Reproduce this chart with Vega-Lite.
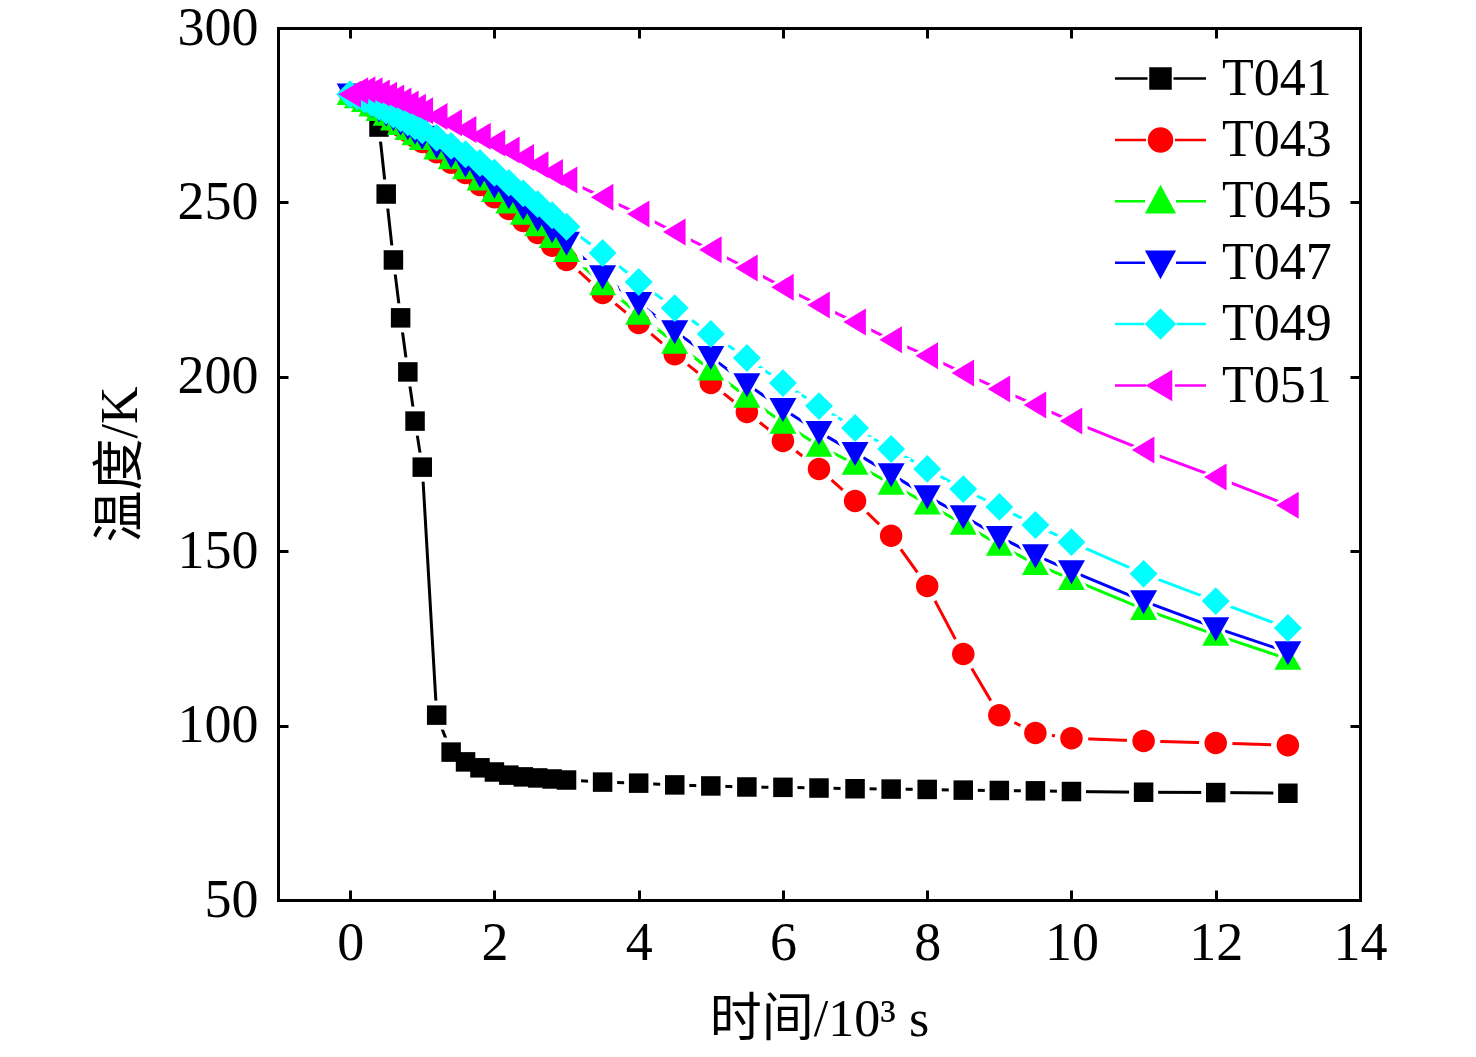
{
  "$schema": "https://vega.github.io/schema/vega-lite/v6.json",
  "width": 1082,
  "height": 872,
  "autosize": {"type": "none"},
  "padding": {"left": 278, "top": 28, "right": 116, "bottom": 157},
  "background": "white",
  "config": {
    "view": {"stroke": null},
    "font": "Liberation Serif, Noto Sans CJK SC",
    "axis": {
      "grid": false,
      "domainColor": "black",
      "domainWidth": 3,
      "domainCap": "square",
      "tickColor": "black",
      "tickWidth": 3,
      "tickSize": -10,
      "labelFont": "Liberation Serif",
      "labelFontSize": 54,
      "labelColor": "black",
      "labelFlush": false,
      "labelOverlap": false,
      "titleFont": "Liberation Serif, Noto Sans CJK SC",
      "titleFontSize": 52,
      "titleFontWeight": "normal",
      "titleColor": "black"
    }
  },
  "data": {
    "values": [
      {"s":"T041","t":0,"v":281},{"s":"T041","t":0.1,"v":280.5},{"s":"T041","t":0.2,"v":279.5},{"s":"T041","t":0.3,"v":278.5},{"s":"T041","t":0.4,"v":271.6},{"s":"T041","t":0.5,"v":252.4},{"s":"T041","t":0.6,"v":233.5},{"s":"T041","t":0.7,"v":216.9},{"s":"T041","t":0.8,"v":201.4},{"s":"T041","t":0.9,"v":187.3},{"s":"T041","t":1,"v":174.1},
      {"s":"T041","t":1.2,"v":103},{"s":"T041","t":1.4,"v":92.4},{"s":"T041","t":1.6,"v":89.6},{"s":"T041","t":1.8,"v":87.9},{"s":"T041","t":2,"v":86.7},{"s":"T041","t":2.2,"v":85.8},{"s":"T041","t":2.4,"v":85.3},{"s":"T041","t":2.6,"v":85},{"s":"T041","t":2.8,"v":84.7},{"s":"T041","t":3,"v":84.4},
      {"s":"T041","t":3.5,"v":83.8},{"s":"T041","t":4,"v":83.5},{"s":"T041","t":4.5,"v":83},{"s":"T041","t":5,"v":82.7},{"s":"T041","t":5.5,"v":82.4},{"s":"T041","t":6,"v":82.3},{"s":"T041","t":6.5,"v":82.1},{"s":"T041","t":7,"v":81.9},{"s":"T041","t":7.5,"v":81.8},{"s":"T041","t":8,"v":81.7},{"s":"T041","t":8.5,"v":81.5},{"s":"T041","t":9,"v":81.4},{"s":"T041","t":9.5,"v":81.3},{"s":"T041","t":10,"v":81.1},
      {"s":"T041","t":11,"v":80.9},{"s":"T041","t":12,"v":80.8},{"s":"T041","t":13,"v":80.6},

      {"s":"T043","t":0,"v":281},{"s":"T043","t":0.1,"v":280},{"s":"T043","t":0.2,"v":278.8},{"s":"T043","t":0.3,"v":277.5},{"s":"T043","t":0.4,"v":276.1},{"s":"T043","t":0.5,"v":274.7},{"s":"T043","t":0.6,"v":273.2},{"s":"T043","t":0.7,"v":271.8},{"s":"T043","t":0.8,"v":270.3},{"s":"T043","t":0.9,"v":268.8},{"s":"T043","t":1,"v":267.3},
      {"s":"T043","t":1.2,"v":264.4},{"s":"T043","t":1.4,"v":261.4},{"s":"T043","t":1.6,"v":258.4},{"s":"T043","t":1.8,"v":255},{"s":"T043","t":2,"v":251.5},{"s":"T043","t":2.2,"v":248.1},{"s":"T043","t":2.4,"v":244.7},{"s":"T043","t":2.6,"v":241.2},{"s":"T043","t":2.8,"v":237.6},{"s":"T043","t":3,"v":233.5},
      {"s":"T043","t":3.5,"v":224},{"s":"T043","t":4,"v":215.4},{"s":"T043","t":4.5,"v":206.5},{"s":"T043","t":5,"v":198.2},{"s":"T043","t":5.5,"v":189.9},{"s":"T043","t":6,"v":181.6},{"s":"T043","t":6.5,"v":173.6},{"s":"T043","t":7,"v":164.4},{"s":"T043","t":7.5,"v":154.4},{"s":"T043","t":8,"v":140},{"s":"T043","t":8.5,"v":120.5},{"s":"T043","t":9,"v":103},{"s":"T043","t":9.5,"v":97.9},{"s":"T043","t":10,"v":96.4},
      {"s":"T043","t":11,"v":95.6},{"s":"T043","t":12,"v":95},{"s":"T043","t":13,"v":94.4},

      {"s":"T045","t":0,"v":281},{"s":"T045","t":0.1,"v":280.1},{"s":"T045","t":0.2,"v":279},{"s":"T045","t":0.3,"v":277.7},{"s":"T045","t":0.4,"v":276.4},{"s":"T045","t":0.5,"v":275.1},{"s":"T045","t":0.6,"v":273.7},{"s":"T045","t":0.7,"v":272.4},{"s":"T045","t":0.8,"v":271},{"s":"T045","t":0.9,"v":269.5},{"s":"T045","t":1,"v":268.1},
      {"s":"T045","t":1.2,"v":265.4},{"s":"T045","t":1.4,"v":262.6},{"s":"T045","t":1.6,"v":259.7},{"s":"T045","t":1.8,"v":256.5},{"s":"T045","t":2,"v":253.2},{"s":"T045","t":2.2,"v":249.9},{"s":"T045","t":2.4,"v":246.7},{"s":"T045","t":2.6,"v":243.4},{"s":"T045","t":2.8,"v":240},{"s":"T045","t":3,"v":236},
      {"s":"T045","t":3.5,"v":226.5},{"s":"T045","t":4,"v":218},{"s":"T045","t":4.5,"v":209.7},{"s":"T045","t":5,"v":202},{"s":"T045","t":5.5,"v":194.2},{"s":"T045","t":6,"v":186.8},{"s":"T045","t":6.5,"v":180.2},{"s":"T045","t":7,"v":175},{"s":"T045","t":7.5,"v":169.3},{"s":"T045","t":8,"v":163.6},{"s":"T045","t":8.5,"v":157.8},{"s":"T045","t":9,"v":151.8},{"s":"T045","t":9.5,"v":146.3},{"s":"T045","t":10,"v":142},
      {"s":"T045","t":11,"v":133.4},{"s":"T045","t":12,"v":126},{"s":"T045","t":13,"v":119.1},

      {"s":"T047","t":0,"v":281},{"s":"T047","t":0.1,"v":280.2},{"s":"T047","t":0.2,"v":279.1},{"s":"T047","t":0.3,"v":278},{"s":"T047","t":0.4,"v":276.7},{"s":"T047","t":0.5,"v":275.5},{"s":"T047","t":0.6,"v":274.2},{"s":"T047","t":0.7,"v":272.9},{"s":"T047","t":0.8,"v":271.6},{"s":"T047","t":0.9,"v":270.3},{"s":"T047","t":1,"v":268.9},
      {"s":"T047","t":1.2,"v":266.3},{"s":"T047","t":1.4,"v":263.6},{"s":"T047","t":1.6,"v":260.9},{"s":"T047","t":1.8,"v":257.9},{"s":"T047","t":2,"v":254.8},{"s":"T047","t":2.2,"v":251.8},{"s":"T047","t":2.4,"v":248.7},{"s":"T047","t":2.6,"v":245.4},{"s":"T047","t":2.8,"v":242.1},{"s":"T047","t":3,"v":238.5},
      {"s":"T047","t":3.5,"v":228.9},{"s":"T047","t":4,"v":221.2},{"s":"T047","t":4.5,"v":213.1},{"s":"T047","t":5,"v":205.7},{"s":"T047","t":5.5,"v":197.9},{"s":"T047","t":6,"v":190.8},{"s":"T047","t":6.5,"v":184.2},{"s":"T047","t":7,"v":178.2},{"s":"T047","t":7.5,"v":172.1},{"s":"T047","t":8,"v":165.8},{"s":"T047","t":8.5,"v":160.1},{"s":"T047","t":9,"v":154.1},{"s":"T047","t":9.5,"v":148.9},{"s":"T047","t":10,"v":144.3},
      {"s":"T047","t":11,"v":135.7},{"s":"T047","t":12,"v":128},{"s":"T047","t":13,"v":121.1},

      {"s":"T049","t":0,"v":281},{"s":"T049","t":0.1,"v":280.4},{"s":"T049","t":0.2,"v":279.5},{"s":"T049","t":0.3,"v":278.5},{"s":"T049","t":0.4,"v":277.4},{"s":"T049","t":0.5,"v":276.3},{"s":"T049","t":0.6,"v":275.2},{"s":"T049","t":0.7,"v":274.1},{"s":"T049","t":0.8,"v":273},{"s":"T049","t":0.9,"v":271.8},{"s":"T049","t":1,"v":270.7},
      {"s":"T049","t":1.2,"v":268.5},{"s":"T049","t":1.4,"v":266.2},{"s":"T049","t":1.6,"v":263.8},{"s":"T049","t":1.8,"v":261.3},{"s":"T049","t":2,"v":258.5},{"s":"T049","t":2.2,"v":255.6},{"s":"T049","t":2.4,"v":252.6},{"s":"T049","t":2.6,"v":249.5},{"s":"T049","t":2.8,"v":246.3},{"s":"T049","t":3,"v":243},
      {"s":"T049","t":3.5,"v":235.5},{"s":"T049","t":4,"v":227.2},{"s":"T049","t":4.5,"v":219.7},{"s":"T049","t":5,"v":212.3},{"s":"T049","t":5.5,"v":205.4},{"s":"T049","t":6,"v":198.2},{"s":"T049","t":6.5,"v":191.6},{"s":"T049","t":7,"v":185.3},{"s":"T049","t":7.5,"v":179.3},{"s":"T049","t":8,"v":173.6},{"s":"T049","t":8.5,"v":167.8},{"s":"T049","t":9,"v":162.7},{"s":"T049","t":9.5,"v":157.5},{"s":"T049","t":10,"v":152.6},
      {"s":"T049","t":11,"v":143.5},{"s":"T049","t":12,"v":135.7},{"s":"T049","t":13,"v":128},

      {"s":"T051","t":0,"v":281},{"s":"T051","t":0.1,"v":282},{"s":"T051","t":0.2,"v":282.3},{"s":"T051","t":0.3,"v":282},{"s":"T051","t":0.4,"v":281.4},{"s":"T051","t":0.5,"v":280.7},{"s":"T051","t":0.6,"v":279.9},{"s":"T051","t":0.7,"v":279.1},{"s":"T051","t":0.8,"v":278.2},{"s":"T051","t":0.9,"v":277.3},{"s":"T051","t":1,"v":276.3},
      {"s":"T051","t":1.2,"v":274.6},{"s":"T051","t":1.4,"v":272.8},{"s":"T051","t":1.6,"v":270.9},{"s":"T051","t":1.8,"v":269},{"s":"T051","t":2,"v":267},{"s":"T051","t":2.2,"v":265},{"s":"T051","t":2.4,"v":262.9},{"s":"T051","t":2.6,"v":260.8},{"s":"T051","t":2.8,"v":258.6},{"s":"T051","t":3,"v":256.4},
      {"s":"T051","t":3.5,"v":251.5},{"s":"T051","t":4,"v":246.7},{"s":"T051","t":4.5,"v":241.5},{"s":"T051","t":5,"v":236.4},{"s":"T051","t":5.5,"v":231.2},{"s":"T051","t":6,"v":225.7},{"s":"T051","t":6.5,"v":220.6},{"s":"T051","t":7,"v":215.7},{"s":"T051","t":7.5,"v":210.6},{"s":"T051","t":8,"v":206},{"s":"T051","t":8.5,"v":201.1},{"s":"T051","t":9,"v":196.5},{"s":"T051","t":9.5,"v":191.9},{"s":"T051","t":10,"v":187.3},
      {"s":"T051","t":11,"v":179},{"s":"T051","t":12,"v":171.3},{"s":"T051","t":13,"v":163.2}
    ]
  },
  "resolve": {
    "scale": {"color": "independent", "shape": "independent", "stroke": "independent"},
    "axis": {"x": "independent", "y": "independent"}
  },
  "layer": [
    {
      "mark": {"type": "line", "strokeWidth": 3},
      "encoding": {
        "x": {
          "field": "t", "type": "quantitative",
          "scale": {"domain": [-1, 14], "nice": false, "zero": false},
          "axis": {"orient": "bottom", "values": [0, 2, 4, 6, 8, 10, 12, 14], "labelPadding": 26, "title": "时间/10³ s", "titlePadding": 24}
        },
        "y": {
          "field": "v", "type": "quantitative",
          "scale": {"domain": [50, 300], "nice": false, "zero": false},
          "axis": {"orient": "left", "values": [50, 100, 150, 200, 250, 300], "labelPadding": 30, "title": "温度/K", "titlePadding": 30}
        },
        "color": {
          "field": "s", "type": "nominal", "legend": null,
          "scale": {"domain": ["T041", "T043", "T045", "T047", "T049", "T051"], "range": ["#000000", "#ff0000", "#00ff00", "#0000ff", "#00ffff", "#ff00ff"]}
        },
        "detail": {"field": "s"}
      }
    },
    {
      "mark": {"type": "point", "filled": true, "fill": "white", "opacity": 1, "size": 2000},
      "encoding": {
        "x": {"field": "t", "type": "quantitative", "scale": {"domain": [-1, 14], "nice": false, "zero": false}, "axis": null},
        "y": {"field": "v", "type": "quantitative", "scale": {"domain": [50, 300], "nice": false, "zero": false}, "axis": null},
        "shape": {
          "field": "s", "type": "nominal", "legend": null,
          "scale": {"domain": ["T041", "T043", "T045", "T047", "T049", "T051"], "range": ["M-0.65,-0.65H0.65V0.65H-0.65Z", "M-0.75,0A0.75,0.75 0 1,0 0.75,0A0.75,0.75 0 1,0 -0.75,0Z", "M0,-0.88L0.9,0.72L-0.9,0.72Z", "M0,0.88L0.9,-0.72L-0.9,-0.72Z", "M0,-0.93L0.93,0L0,0.93L-0.93,0Z", "M-0.78,0L0.72,-0.9L0.72,0.9Z"]}
        }
      }
    },
    {
      "mark": {"type": "point", "filled": true, "opacity": 1, "size": 900},
      "encoding": {
        "x": {
          "field": "t", "type": "quantitative",
          "scale": {"domain": [-1, 14], "nice": false, "zero": false},
          "axis": {"orient": "top", "values": [0, 2, 4, 6, 8, 10, 12, 14], "labels": false, "title": null}
        },
        "y": {
          "field": "v", "type": "quantitative",
          "scale": {"domain": [50, 300], "nice": false, "zero": false},
          "axis": {"orient": "right", "values": [50, 100, 150, 200, 250, 300], "labels": false, "title": null}
        },
        "color": {
          "field": "s", "type": "nominal", "legend": null,
          "scale": {"domain": ["T041", "T043", "T045", "T047", "T049", "T051"], "range": ["#000000", "#ff0000", "#00ff00", "#0000ff", "#00ffff", "#ff00ff"]}
        },
        "shape": {
          "field": "s", "type": "nominal", "legend": null,
          "scale": {"domain": ["T041", "T043", "T045", "T047", "T049", "T051"], "range": ["M-0.65,-0.65H0.65V0.65H-0.65Z", "M-0.75,0A0.75,0.75 0 1,0 0.75,0A0.75,0.75 0 1,0 -0.75,0Z", "M0,-0.88L0.9,0.72L-0.9,0.72Z", "M0,0.88L0.9,-0.72L-0.9,-0.72Z", "M0,-0.93L0.93,0L0,0.93L-0.93,0Z", "M-0.78,0L0.72,-0.9L0.72,0.9Z"]}
        }
      }
    },
    {
      "transform": [{"filter": "false"}],
      "mark": {"type": "point", "filled": true, "opacity": 1, "size": 2500, "strokeWidth": 2.5},
      "encoding": {
        "x": {"field": "t", "type": "quantitative", "scale": {"domain": [-1, 14], "nice": false, "zero": false}, "axis": null},
        "y": {"field": "v", "type": "quantitative", "scale": {"domain": [50, 300], "nice": false, "zero": false}, "axis": null},
        "color": {
          "field": "s", "type": "nominal",
          "scale": {"domain": ["T041", "T043", "T045", "T047", "T049", "T051"], "range": ["#000000", "#ff0000", "#00ff00", "#0000ff", "#00ffff", "#ff00ff"]},
          "legend": {
            "title": null,
            "orient": "none",
            "legendX": 856,
            "legendY": 24,
            "padding": 0,
            "symbolSize": 2500,
            "symbolStrokeWidth": 2.5,
            "labelFont": "Liberation Serif",
            "labelFontSize": 52,
            "labelColor": "black",
            "labelOffset": 35,
            "rowPadding": 8.4,
            "labelLimit": 300,
            "encode": {"symbols": {"update": {"size": {"value": 2500}, "strokeWidth": {"value": 2.5}}}}
          }
        },
        "stroke": {
          "field": "s", "type": "nominal",
          "scale": {"domain": ["T041", "T043", "T045", "T047", "T049", "T051"], "range": ["#000000", "#ff0000", "#00ff00", "#0000ff", "#00ffff", "#ff00ff"]}
        },
        "shape": {
          "field": "s", "type": "nominal",
          "scale": {"domain": ["T041", "T043", "T045", "T047", "T049", "T051"], "range": [
            "M-1.82,0H-0.52M0.52,0H1.82M-0.4,-0.4H0.4V0.4H-0.4Z",
            "M-1.82,0H-0.58M0.58,0H1.82M-0.46,0A0.46,0.46 0 1,0 0.46,0A0.46,0.46 0 1,0 -0.46,0Z",
            "M-1.82,0H-0.62M0.62,0H1.82M0,-0.56L0.54,0.44L-0.54,0.44Z",
            "M-1.82,0H-0.62M0.62,0H1.82M0,0.56L0.54,-0.44L-0.54,-0.44Z",
            "M-1.82,0H-0.64M0.64,0H1.82M0,-0.56L0.56,0L0,0.56L-0.56,0Z",
            "M-1.82,0H-0.58M0.58,0H1.82M-0.5,0L0.42,-0.54L0.42,0.54Z"
          ]}
        }
      }
    }
  ]
}
